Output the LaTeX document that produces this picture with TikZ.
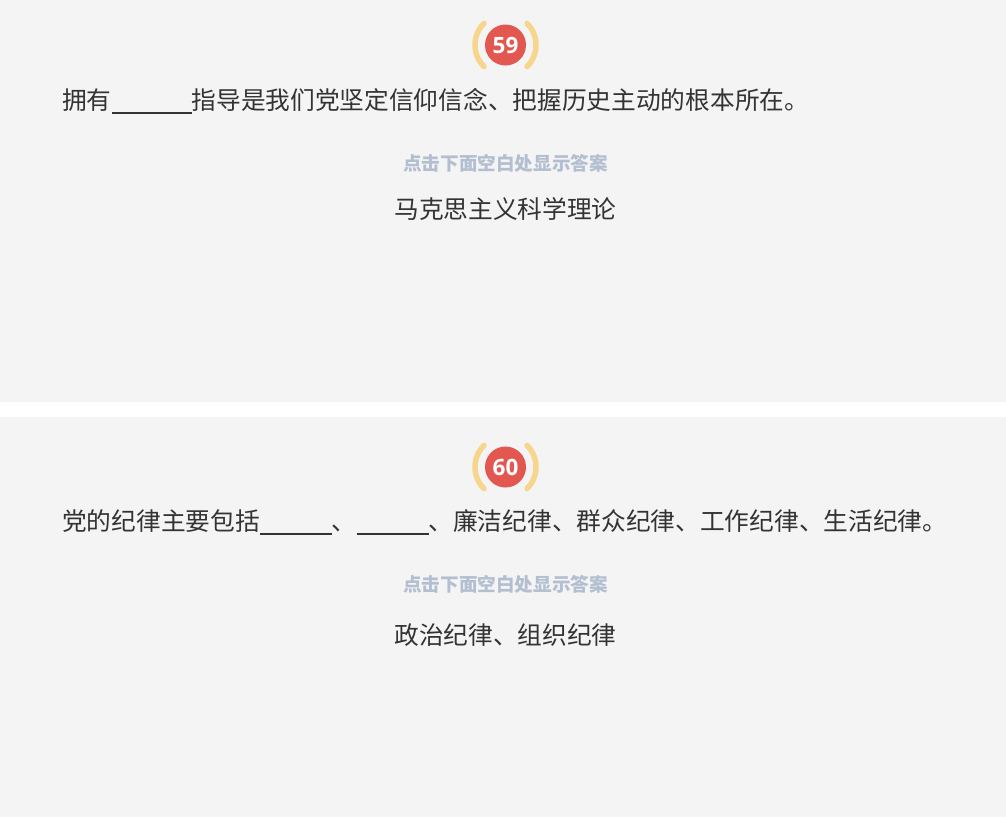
\documentclass[tikz,border=0pt]{standalone}
\usepackage{fontspec}
\setmainfont{Noto Sans CJK SC}
\newfontfamily\numfont{Open Sans}
\usetikzlibrary{positioning}
\definecolor{panelgray}{HTML}{F4F4F4}
\definecolor{textdark}{HTML}{333333}
\definecolor{hintblue}{HTML}{B3BFD1}
\definecolor{badgered}{HTML}{E2574F}
\definecolor{ringyellow}{HTML}{F7D58C}
\tikzstyle{panel} = [fill=panelgray]
\tikzstyle{badge} = [circle, fill=badgered, minimum size=41pt, inner sep=0pt, text=white, font=\numfont\bfseries\fontsize{22.5}{22.5}\selectfont]
\tikzstyle{ring} = [ringyellow, line width=5.5pt, line cap=round]
\tikzstyle{question} = [anchor=base west, inner sep=0pt, text=textdark, font=\fontsize{24.7}{30}\selectfont]
\tikzstyle{hint} = [inner sep=0pt, text=hintblue, font=\bfseries\fontsize{18.6}{22}\selectfont]
\tikzstyle{answer} = [inner sep=0pt, text=textdark, font=\fontsize{24.7}{30}\selectfont]
\newcommand{\blankline}[1]{\rule[-4.5pt]{#1}{1.8pt}}

\begin{document}
\begin{tikzpicture}[x=1pt,y=-1pt]
	\useasboundingbox[fill=white] (0,0) rectangle (1006,817);
	% two question cards
	\foreach \n/\top/\bot/\by/\hy in {59/0/402/45/163, 60/417/817/467/584}{
		\fill[panel] (0,\top) rectangle (1006,\bot);
		\node[badge] (badge\n) at (505.5,\by) {\n};
		\draw[ring] (badge\n.center) ++(135:30.5) arc[start angle=135, end angle=225, radius=30.5];
		\draw[ring] (badge\n.center) ++(-45:30.5) arc[start angle=-45, end angle=45, radius=30.5];
		\node[hint] (hint\n) at (505.5,\hy) {点击下面空白处显示答案};
	}

	\node[question] (q59) at (62,109.5) {拥有\blankline{80pt}指导是我们党坚定信仰信念、把握历史主动的根本所在。};
	\node[answer, below=25pt of hint59] (a59) {马克思主义科学理论};

	\node[question] (q60) at (62,530.5) {党的纪律主要包括\blankline{72pt}、\blankline{72pt}、廉洁纪律、群众纪律、工作纪律、生活纪律。};
	\node[answer, below=30pt of hint60] (a60) {政治纪律、组织纪律};
\end{tikzpicture}
\end{document}
